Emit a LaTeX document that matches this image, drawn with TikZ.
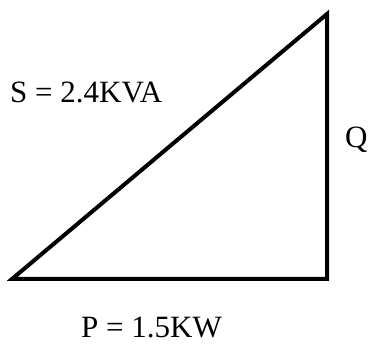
\documentclass[tikz,border=0pt]{standalone}
\usepackage{fontspec}
\setmainfont{Liberation Serif}
\begin{document}
\begin{tikzpicture}[x=1pt,y=-1pt,
  side/.style={line width=4pt,line join=miter},
  lbl/.style={font=\fontsize{31}{35}\selectfont,inner sep=0pt,anchor=base west}]
\useasboundingbox (0,0) rectangle (369,344);
\coordinate (A) at (12,279);
\coordinate (B) at (327,279);
\coordinate (C) at (327,14);
\draw[side] (A) -- (B) -- (C) -- cycle;
\node[lbl] (S) at (10,103) {S = 2.4KVA};
\node[lbl] (Q) at (345,148) {Q};
\node[lbl] (P) at (81,337) {P = 1.5KW};
\end{tikzpicture}
\end{document}
